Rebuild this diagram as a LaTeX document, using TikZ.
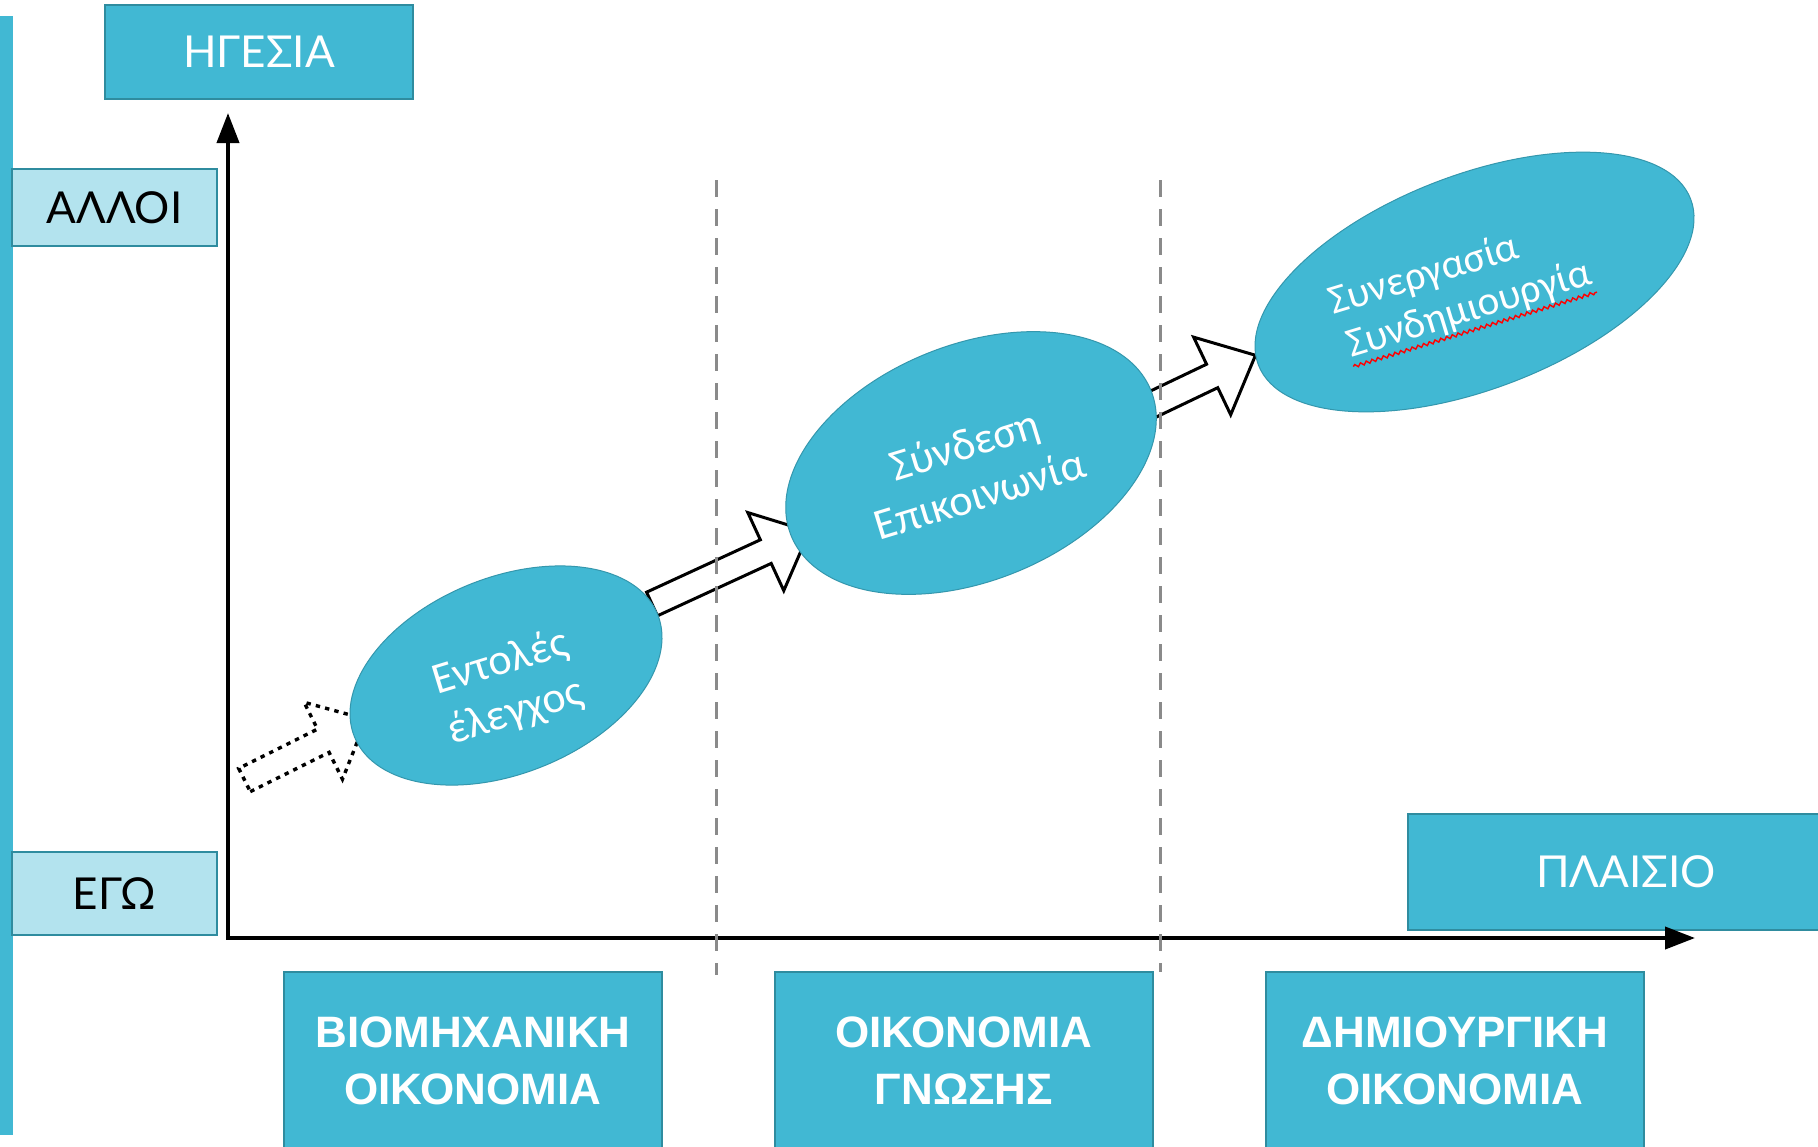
\documentclass[tikz,border=0pt]{standalone}
\usepackage{fontspec}
\setmainfont{Lato}
\newfontfamily\carl{Carlito}
\newfontfamily\arialf{Liberation Sans}
\usetikzlibrary{shapes.geometric,arrows.meta,calc,decorations.pathmorphing}
\definecolor{teal1}{HTML}{41B8D3}
\definecolor{tealB}{HTML}{2F8C9F}
\definecolor{lightb}{HTML}{B3E3EE}
\definecolor{ellB}{HTML}{3497AD}
\definecolor{dashg}{HTML}{8A8A8A}
\tikzset{
  darkbox/.style={draw=tealB, line width=0.8pt, fill=teal1, text=white, inner sep=0pt, font=\fontsize{22}{28}\selectfont},
  lightbox/.style={draw=tealB, line width=0.8pt, fill=lightb, text=black, inner sep=0pt, font=\fontsize{22}{28}\selectfont},
  econbox/.style={draw=tealB, line width=0.8pt, fill=teal1, text=white, inner sep=0pt, align=center, minimum width=189pt, minimum height=89pt, font=\arialf\bfseries\fontsize{22}{28.5}\selectfont},
  ell/.style={ellipse, fill=teal1, draw=ellB, line width=0.5pt, inner sep=0pt},
  etext/.style={text=white, inner sep=0pt, align=center, font=\carl\fontsize{22}{26}\selectfont},
  axisline/.style={line width=2pt, {Triangle[length=15pt,width=11pt]}-{Triangle[length=15pt,width=11pt]}},
  solidarrow/.style={draw=black, fill=white, line width=1.5pt, line join=miter},
  dottedarrow/.style={draw=black, fill=white, line width=1.7pt, dash pattern=on 2.2pt off 2.6pt},
  divider/.style={draw=dashg, line width=1.5pt, dash pattern=on 8.5pt off 6pt},
  spell/.style={draw=red, line width=0.7pt, decorate, decoration={snake, amplitude=0.8pt, segment length=3pt}},
}
\newcommand\blockarrow[3]{%
  \draw[#1] let \p1=($(#3)-(#2)$), \n1={atan2(\y1,\x1)}, \n2={veclen(\x1,\y1)} in
    [shift={(#2)}, rotate=\n1]
    (0pt,-6.5pt) -- (\n2-24pt,-6.5pt) -- (\n2-24pt,-21.5pt) -- (\n2,0pt)
    -- (\n2-24pt,21.5pt) -- (\n2-24pt,6.5pt) -- (0pt,6.5pt) -- cycle;
}
\begin{document}
\begin{tikzpicture}[x=0.5pt,y=-0.5pt]
\clip (0,0) rectangle (1818,1146);
\fill[white] (0,0) rectangle (1818,1146);
% left bar
\fill[teal1] (0,16) rectangle (13,1135);
% boxes
\node[darkbox, minimum width=154pt, minimum height=47pt] (hgesia) at (259,52) {ΗΓΕΣΙΑ};
\node[lightbox, minimum width=102.5pt, minimum height=38.5pt] (alloi) at (114.5,207.5) {ΑΛΛΟΙ};
\node[lightbox, minimum width=102.5pt, minimum height=41.5pt] (ego) at (114.5,893.5) {ΕΓΩ};
\node[darkbox, minimum width=218pt, minimum height=58pt] (plaisio) at (1626,872) {ΠΛΑΙΣΙΟ};
\node[econbox] (b1) at (473,1061) {ΒΙΟΜΗΧΑΝΙΚΗ\\ΟΙΚΟΝΟΜΙΑ};
\node[econbox] (b2) at (964,1061) {ΟΙΚΟΝΟΜΙΑ\\ΓΝΩΣΗΣ};
\node[econbox] (b3) at (1455,1061) {ΔΗΜΙΟΥΡΓΙΚΗ\\ΟΙΚΟΝΟΜΙΑ};
% axes
\coordinate (O) at (228,938);
\coordinate (ytip) at (228,113);
\coordinate (xtip) at (1695,938);
\draw[axisline] (ytip) -- (O) -- (xtip);
% block arrows
\coordinate (a1s) at (244.5,780);
\coordinate (a1e) at (366.3,719.3);
\coordinate (a2s) at (652,604);
\coordinate (a2e) at (809.6,531.4);
\coordinate (a3s) at (1122,419);
\coordinate (a3e) at (1255.6,355.2);
\blockarrow{dottedarrow}{a1s}{a1e}
\blockarrow{solidarrow}{a2s}{a2e}
\blockarrow{solidarrow}{a3s}{a3e}
% ellipses
\node[ell, minimum width=163.5pt, minimum height=98pt, rotate=22] (e1) at (506,675.5) {};
\node[ell, minimum width=194pt, minimum height=118pt, rotate=22] (e2) at (971,463) {};
\node[ell, minimum width=231.5pt, minimum height=107pt, rotate=21] (e3) at (1474.5,282) {};
\node[etext, rotate=17] (e1t) at (508,688) {Εντολές\\έλεγχος};
\node[etext, rotate=17] (e2t) at (972,469) {Σύνδεση\\Επικοινωνία};
\node[etext, font=\carl\fontsize{20.5}{26}\selectfont, rotate=17, anchor=base west] (e3a) at (1333,315) {Συνεργασία};
\node[etext, font=\carl\fontsize{20.5}{26}\selectfont, rotate=17, anchor=base west] (e3b) at (1350.7,358) {Συνδημιουργία};
\draw[spell] ($(e3b.base west)!4.5pt!-90:(e3b.base east)$) -- ($(e3b.base east)!4.5pt!90:(e3b.base west)$);
% dividers
\coordinate (d1t) at (716,180);
\coordinate (d1b) at (716,975);
\coordinate (d2t) at (1160,180);
\coordinate (d2b) at (1160,972);
\draw[divider] (d1t) -- (d1b);
\draw[divider] (d2t) -- (d2b);
\end{tikzpicture}
\end{document}
